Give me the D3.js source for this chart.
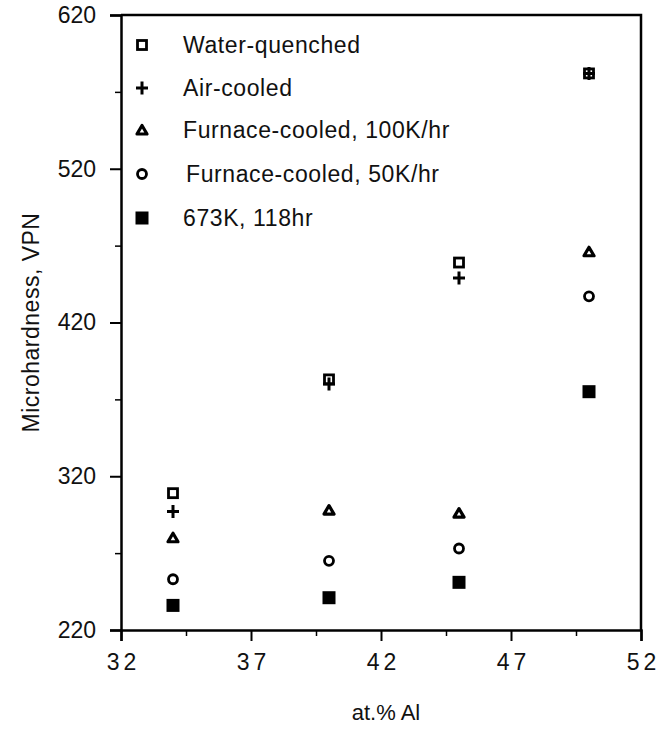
<!DOCTYPE html>
<html>
<head>
<meta charset="utf-8">
<script src="https://cdn.jsdelivr.net/npm/d3@7"></script>
<style>
  body { margin: 0; background: #fff; }
  svg { font-family: "Liberation Sans", Arial, sans-serif; }
</style>
</head>
<body>
<div class="chart"></div>
<script>
// at.% Al for each sample group
const alloy = [34, 40, 45, 50]

// microhardness (VPN)
const waterQuenched = [309, 383, 459, 582]
const airCooled = [297, 380, 449, 582]
const furnace100 = [280, 298, 296, 466]
const furnace50 = [253, 265, 273, 437]
const aged673 = [236, 241, 251, 375]

const seriesNames = ['Water-quenched', 'Air-cooled', 'Furnace-cooled, 100K/hr', 'Furnace-cooled, 50K/hr', '673K, 118hr']
const seriesKeys = ['square', 'plus', 'triangle', 'circle', 'filled']
const seriesValues = [waterQuenched, airCooled, furnace100, furnace50, aged673]

const xTicks = [32, 37, 42, 47, 52]
const xMinor = [34.5, 39.5, 44.5, 49.5]
const yTicks = [220, 320, 420, 520, 620]
const yMinor = [270, 370, 470, 570]

const margin = ({top: 15, right: 29, bottom: 101, left: 121})
const width = 670 - margin.left - margin.right
const height = 731 - margin.top - margin.bottom

const svg = d3.select('.chart').append('svg')
    .attr('width', 670)
    .attr('height', 731)
  .append('g')
    .attr('transform', `translate(${margin.left},${margin.top})`)

const x = d3.scaleLinear().domain([32, 52]).range([0, width])
const y = d3.scaleLinear().domain([220, 620]).range([height, 0])

// frame: top and right edges
svg.append('path')
    .attr('d', `M0,0H${width}V${height}`)
    .attr('fill', 'none')
    .attr('stroke', '#000')
    .attr('stroke-width', 2.5)

// y axis
const yAxis = svg.append('g')
    .call(d3.axisLeft(y).tickValues(yTicks).tickSize(11).tickPadding(14))
yAxis.select('.domain').attr('stroke-width', 2.5)
yAxis.selectAll('.tick line').attr('stroke-width', 2)
yAxis.selectAll('.tick text').attr('font-size', 23).attr('fill', '#111')
svg.append('g')
    .call(d3.axisLeft(y).tickValues(yMinor).tickSize(6).tickFormat(''))
    .call(g => g.select('.domain').remove())
    .selectAll('.tick line').attr('stroke-width', 1.5)

// x axis
const xAxis = svg.append('g')
    .attr('transform', `translate(0,${height})`)
    .call(d3.axisBottom(x).tickValues(xTicks).tickSize(11).tickPadding(13))
xAxis.select('.domain').attr('stroke-width', 2.5)
xAxis.selectAll('.tick line').attr('stroke-width', 2)
xAxis.selectAll('.tick text').attr('font-size', 23).attr('fill', '#111')
    .attr('letter-spacing', '4px').attr('dx', '2px')
svg.append('g')
    .attr('transform', `translate(0,${height})`)
    .call(d3.axisBottom(x).tickValues(xMinor).tickSize(6).tickFormat(''))
    .call(g => g.select('.domain').remove())
    .selectAll('.tick line').attr('stroke-width', 1.5)

// axis titles
svg.append('text')
    .attr('x', x(42) + 5)
    .attr('y', height + 90)
    .attr('text-anchor', 'middle')
    .attr('font-size', 22)
    .attr('fill', '#111')
    .text('at.% Al')

svg.append('text')
    .attr('transform', `translate(${-margin.left + 39},${y(420)}) rotate(-90)`)
    .attr('text-anchor', 'middle')
    .attr('font-size', 23)
    .attr('letter-spacing', '0.5px')
    .attr('fill', '#111')
    .text('Microhardness, VPN')

function drawMarker(g, key) {
  if (key === 'square') {
    g.append('rect').attr('x', -4.5).attr('y', -4.5).attr('width', 9).attr('height', 9)
        .attr('fill', 'none').attr('stroke', '#000').attr('stroke-width', 2.8)
  } else if (key === 'plus') {
    g.append('path').attr('d', 'M-6,0H6M0,-6.5V6.5')
        .attr('stroke', '#000').attr('stroke-width', 3)
  } else if (key === 'triangle') {
    g.append('path').attr('d', 'M0,-4.5L5,4H-5Z')
        .attr('fill', 'none').attr('stroke', '#000').attr('stroke-width', 3.2)
        .attr('stroke-linejoin', 'round')
  } else if (key === 'circle') {
    g.append('circle').attr('r', 4.5)
        .attr('fill', 'none').attr('stroke', '#000').attr('stroke-width', 2.8)
  } else {
    g.append('rect').attr('x', -6.5).attr('y', -6.5).attr('width', 13).attr('height', 13)
        .attr('fill', '#000')
  }
}

// data points
seriesKeys.forEach((key, i) => {
  svg.append('g')
    .selectAll('g')
    .data(seriesValues[i].map((v, j) => ({x: alloy[j], y: v})))
    .join('g')
      .attr('transform', d => `translate(${x(d.x)},${y(d.y)})`)
      .each(function() { drawMarker(d3.select(this), key) })
})

// legend
const legendY = [30, 73, 115, 159, 203]
const legend = svg.append('g')
seriesKeys.forEach((key, i) => {
  const row = legend.append('g').attr('transform', `translate(21,${legendY[i]})`)
  drawMarker(row, key)
  row.append('text')
      .attr('x', i === 3 ? 44 : 41)
      .attr('y', 8)
      .attr('font-size', 23)
      .attr('letter-spacing', '0.6px')
      .attr('fill', '#111')
      .text(seriesNames[i])
})
</script>
</body>
</html>
